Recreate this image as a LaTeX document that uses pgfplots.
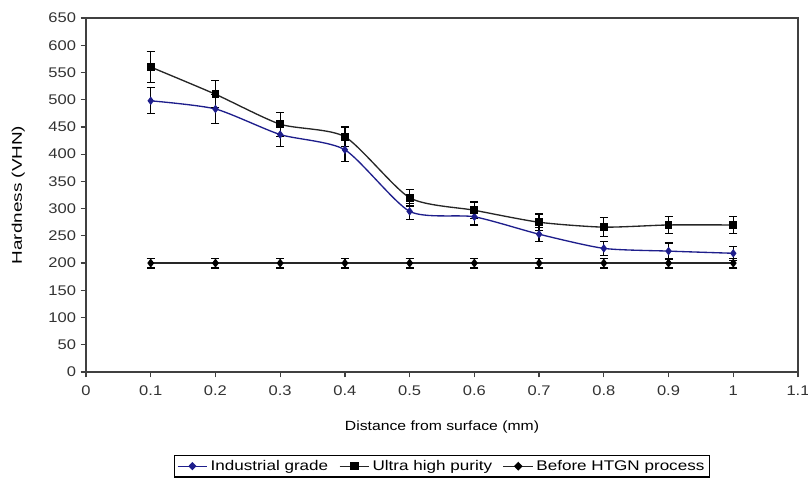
\documentclass[border=0pt]{standalone}
\usepackage{fontspec}
\setmainfont{Liberation Sans}[FakeStretch=1.18]
\newfontfamily\legfont{Liberation Sans}[FakeStretch=1.22]
\newfontfamily\ylabfont{Liberation Sans}[FakeStretch=1.35]
\usepackage{pgfplots}
\pgfplotsset{compat=1.18}
\definecolor{indblue}{HTML}{1E1E8C}

\begin{document}
\begin{tikzpicture}
\useasboundingbox (-64.5pt,-81pt) rectangle (541.5pt,279pt);
\begin{axis}[
    at={(0,0)}, anchor=south west,
    scale only axis, width=534pt, height=265.5pt,
    xmin=0, xmax=1.1, ymin=0, ymax=650,
    xtick={0,0.1,0.2,0.3,0.4,0.5,0.6,0.7,0.8,0.9,1,1.1},
    xticklabels={0,0.1,0.2,0.3,0.4,0.5,0.6,0.7,0.8,0.9,1,1.1},
    ytick={0,50,...,650},
    xtick pos=left, ytick pos=left,
    tick align=outside, major tick length=4pt,
    axis line style={line width=1pt, black!75},
    tick style={line width=0.9pt, black!75},
    tick label style={font=\fontsize{10.5}{13}\selectfont, text=black!80},
    xticklabel style={yshift=-2.5pt},
    /pgf/number format/assume math mode=true,
    xlabel={Distance from surface (mm)},
    ylabel={\ylabfont Hardness (VHN)},
    xlabel style={at={(axis description cs:0.5,-0.155)}, anchor=center, font=\fontsize{10}{12}\selectfont},
    ylabel style={at={(axis description cs:-0.095,0.5)}, anchor=center, font=\fontsize{10.5}{13}\selectfont},
    legend columns=3,
    legend style={at={(0.5,-0.266)}, anchor=center, draw=black, line width=0.9pt,
        font=\fontsize{10.5}{12}\selectfont\legfont, inner ysep=1.5pt, inner xsep=2pt,
        /tikz/every even column/.append style={column sep=6pt}},
    legend image post style={xscale=1.3},
    legend cell align=left,
    every axis plot/.append style={line width=1pt},
    error bars/error bar style={black, line width=0.9pt},
    error bars/error mark options={rotate=90, mark size=3pt, line width=0.9pt, black},
  ]
  % Industrial grade
  \addplot[indblue, smooth, tension=0.4, mark=diamond*, mark size=2.4pt,
           mark options={fill=indblue, draw=indblue},
           error bars/.cd, y dir=both, y explicit]
    coordinates {
    (0.1,498) +- (0,24) (0.2,483) +- (0,27) (0.3,436) +- (0,22) (0.4,408) +- (0,22)
    (0.5,295) +- (0,15) (0.6,285) +- (0,15) (0.7,253) +- (0,13) (0.8,227) +- (0,13)
    (0.9,222) +- (0,15) (1.0,218) +- (0,13)};
  \addlegendentry{Industrial grade}
  % Ultra high purity
  \addplot[black!85, smooth, tension=0.4, mark=square*, mark size=2.4pt,
           mark options={fill=black, draw=black},
           error bars/.cd, y dir=both, y explicit]
    coordinates {
    (0.1,560) +- (0,28) (0.2,510) +- (0,25) (0.3,455) +- (0,22) (0.4,432) +- (0,18)
    (0.5,320) +- (0,15) (0.6,297) +- (0,15) (0.7,275) +- (0,15) (0.8,266) +- (0,17)
    (0.9,270) +- (0,15) (1.0,270) +- (0,15)};
  \addlegendentry{Ultra high purity}
  % Before HTGN process
  \addplot[black!85, mark=diamond*, mark size=2.6pt,
           mark options={fill=black, draw=black},
           error bars/.cd, y dir=both, y explicit]
    coordinates {
    (0.1,200) +- (0,9) (0.2,200) +- (0,9) (0.3,200) +- (0,9) (0.4,200) +- (0,9)
    (0.5,200) +- (0,9) (0.6,200) +- (0,9) (0.7,200) +- (0,9) (0.8,200) +- (0,9)
    (0.9,200) +- (0,9) (1.0,200) +- (0,9)};
  \addlegendentry{Before HTGN process}
\end{axis}
\end{tikzpicture}
\end{document}
